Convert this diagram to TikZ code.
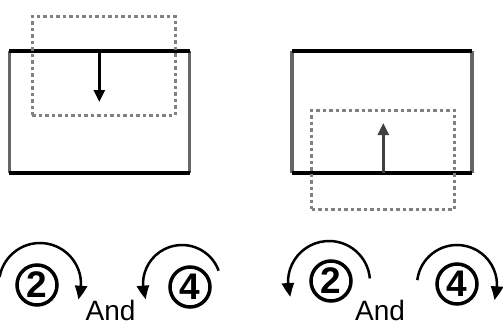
\documentclass[tikz,border=0pt]{standalone}
\usepackage{fontspec}
\setmainfont{Liberation Sans}
\usetikzlibrary{arrows.meta,bending}

\begin{document}
\begin{tikzpicture}[x=1pt,y=1pt,
  frame/.style={minimum width=180pt,minimum height=122pt,inner sep=0pt},
  ghost/.style={draw=gray,line width=3pt,dash pattern=on 3.5pt off 3pt,minimum width=143pt,minimum height=99pt,inner sep=0pt},
  rim/.style={line width=3.5pt,black},
  wall/.style={line width=3.5pt,black!60},
  push/.style={line width=2.5pt,-{Triangle[length=12pt,width=11pt]}},
  num/.style={circle,draw,line width=3.5pt,minimum size=40pt,inner sep=0pt,font=\fontsize{37}{37}\selectfont\bfseries},
  turn/.style={line width=2.5pt,-{Triangle[length=14pt,width=12pt,bend]}},
  every node/.style={font=\fontsize{28}{28}\selectfont}
]
\useasboundingbox (0,0) rectangle (503,325);

% left box, panel pushed down
\node[frame] (boxL) at (99.5,213) {};
\draw[wall] (boxL.north west) -- (boxL.south west);
\draw[wall] (boxL.north east) -- (boxL.south east);
\draw[rim] (boxL.north west) -- (boxL.north east);
\draw[rim] (boxL.south west) -- (boxL.south east);
\node[ghost] (ghostL) at (103.5,259.5) {};
\coordinate (tipL) at (99.3,223);
\draw[push] (boxL.north -| tipL) -- (tipL);

% right box, panel pushed up
\node[frame] (boxR) at (382,213) {};
\draw[wall] (boxR.north west) -- (boxR.south west);
\draw[wall] (boxR.north east) -- (boxR.south east);
\draw[rim] (boxR.north west) -- (boxR.north east);
\draw[rim] (boxR.south west) -- (boxR.south east);
\node[ghost] (ghostR) at (383,165.5) {};
\coordinate (tipR) at (383.3,202);
\draw[push,black!75] (boxR.south -| tipR) -- (tipR);

% turning marks
\node[num] (twoL) at (37,40) {2};
\node[num] (fourL) at (190,38) {4};
\node[num] (twoR) at (331,44) {2};
\node[num] (fourR) at (457,41) {4};
\node[inner sep=0pt] (andL) at (110.5,14.5) {And};
\node[inner sep=0pt] (andR) at (380,14.5) {And};

\draw[turn] ([shift={(3,1)}]twoL.center) ++(170:41) arc[start angle=170,end angle=-22,radius=41];
\draw[turn] ([shift={(-8,3)}]fourL.center) ++(20:39) arc[start angle=20,end angle=203,radius=39];
\draw[turn] ([shift={(-2,-1)}]twoR.center) ++(5:41) arc[start angle=5,end angle=201,radius=41];
\draw[turn] ([shift={(0,-1)}]fourR.center) ++(173:40) arc[start angle=173,end angle=-22,radius=40];
\end{tikzpicture}
\end{document}
